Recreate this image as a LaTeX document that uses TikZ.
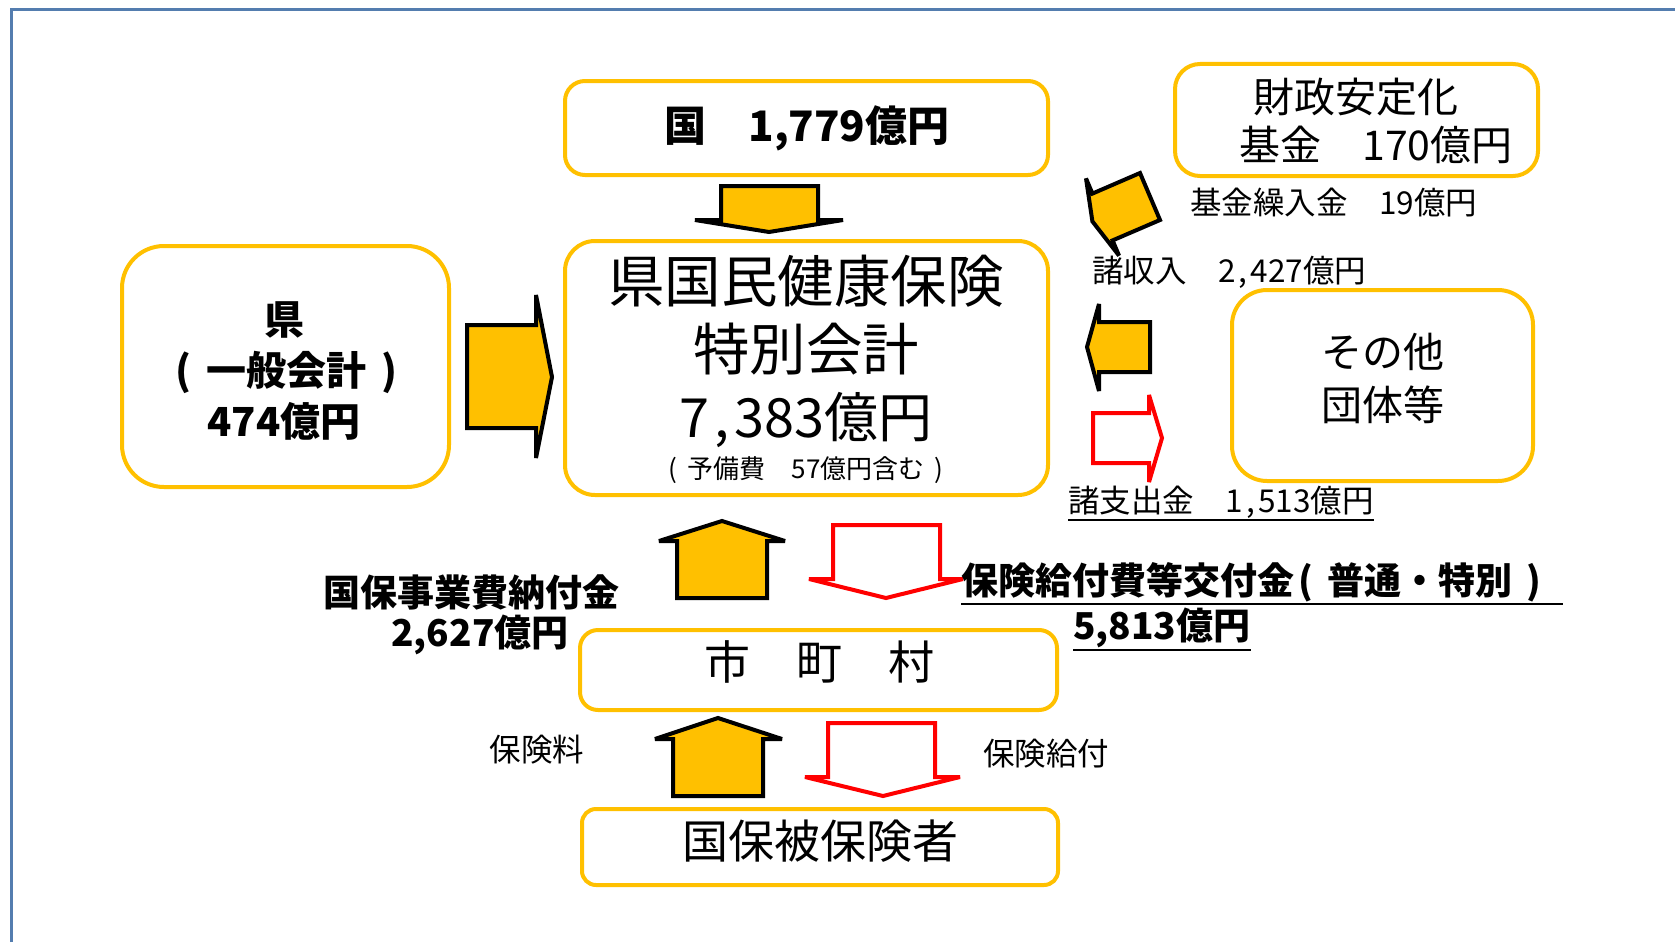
\documentclass[tikz,border=0pt]{standalone}
\usepackage{fontspec}
\setmainfont{Noto Sans CJK JP}
\definecolor{boxyellow}{HTML}{FFC000}
\definecolor{arrowfill}{HTML}{FFC000}
\definecolor{framecol}{RGB}{84,125,175}
\newcommand\myfs[2]{\fontsize{#1}{#2}\selectfont}
\newcommand\lpar{\hspace{.12em}(\hspace{.38em}}
\newcommand\rpar{\hspace{.38em})\hspace{.12em}}
\newcommand\cma{\kern.1em,\kern.1em}
\begin{document}
\begin{tikzpicture}[x=1pt,y=-1pt,
  ybox/.style={draw=boxyellow, line width=4pt, fill=white, inner sep=0pt},
  garrow/.style={draw=black, line width=4pt, fill=arrowfill, line join=miter, miter limit=4},
  rarrow/.style={draw=red, line width=4pt, fill=white, line join=miter, miter limit=4},
  txt/.style={inner sep=0pt, align=center, text=black},
  uline/.style={line width=2.5pt, black}]
\useasboundingbox (0,0) rectangle (1675,942);
% frame
\draw[framecol, line width=3pt] (11,942) -- (11,9.5) -- (1675,9.5);
% boxes
\node[ybox, rounded corners=20pt, minimum width=483pt, minimum height=94pt] (kuni) at (806.5,128) {};
\node[ybox, rounded corners=25pt, minimum width=363pt, minimum height=112pt] (zaisei) at (1356.5,120) {};
\node[ybox, rounded corners=42pt, minimum width=327pt, minimum height=241pt] (ken) at (285.5,366.5) {};
\node[ybox, rounded corners=30pt, minimum width=483pt, minimum height=254pt] (kokuho) at (806.5,368) {};
\node[ybox, rounded corners=35pt, minimum width=301pt, minimum height=191pt] (sonota) at (1382.5,385.5) {};
\node[ybox, rounded corners=18pt, minimum width=477pt, minimum height=80pt] (shichoson) at (818.5,670) {};
\node[ybox, rounded corners=14pt, minimum width=476pt, minimum height=76pt] (hihoken) at (820,847) {};
% block arrows
\draw[garrow] (721,186) -- (818,186) -- (818,220) -- (843,220) -- (769,232) -- (695,220) -- (721,220) -- cycle;
\draw[garrow] (467,325) -- (536,325) -- (536,295) -- (552,377) -- (536,458) -- (536,428) -- (467,428) -- cycle;
\draw[garrow] (1140,173) -- (1160,220) -- (1112.6,240.4) -- (1119,255.6) -- (1092.4,221.4) -- (1086,178.4) -- (1092.4,193.6) -- cycle;
\draw[garrow] (1150,322) -- (1150,372) -- (1099,372) -- (1099,391) -- (1087,347) -- (1099,304) -- (1099,322) -- cycle;
\draw[rarrow] (1093,413) -- (1149,413) -- (1149,395) -- (1162,438) -- (1149,482) -- (1149,463) -- (1093,463) -- cycle;
\draw[garrow] (677,598) -- (767,598) -- (767,541) -- (785,541) -- (722,521) -- (659,541) -- (677,541) -- cycle;
\draw[rarrow] (833,525) -- (940,525) -- (940,579) -- (963,579) -- (886,598) -- (809,579) -- (833,579) -- cycle;
\draw[garrow] (673,796) -- (763,796) -- (763,739) -- (782,739) -- (718,718) -- (655,739) -- (673,739) -- cycle;
\draw[rarrow] (828,723) -- (935,723) -- (935,777) -- (960,777) -- (883,796) -- (805,777) -- (828,777) -- cycle;
% texts
\node[txt, font=\bfseries\myfs{42}{50}] (kuniT) at (807,128) {国　1,779億円};
\node[txt, font=\myfs{41}{48}] (zaiT1) at (1356,97) {財政安定化};
\node[txt, font=\myfs{41}{48}] (zaiT2) at (1376,145) {基金　170億円};
\node[txt, font=\bfseries\myfs{40}{51}] (kenT) at (284,371) {県\\\lpar 一般会計\rpar\\474億円};
\node[txt, font=\myfs{56.5}{67.5}] (mainT) at (806,351.5) {県国民健康保険\\特別会計\\{\myfs{54}{67.5}7\cma 383億円}};
\node[txt, font=\myfs{26}{30}] (yobiT) at (806,470) {\lpar 予備費　57億円含む\rpar};
\node[txt, font=\myfs{41}{53}] (sonoT) at (1383,378.5) {その他\\団体等};
\node[txt, font=\myfs{31.5}{36}, anchor=west] (kikinT) at (1190,203) {基金繰入金　19億円};
\node[txt, font=\myfs{31.5}{36}, anchor=west] (shoshuT) at (1092,272) {諸収入　2\cma 427億円};
\node[txt, font=\myfs{31.5}{36}, anchor=west] (shoshiT) at (1068,502) {諸支出金　1\cma 513億円};
\draw[uline, line width=2pt] ([yshift=-2pt]shoshiT.south west) -- ([yshift=-2pt]shoshiT.south east);
\node[txt, font=\bfseries\myfs{37}{44}] (nofuT1) at (471,592) {国保事業費納付金};
\node[txt, font=\bfseries\myfs{37}{44}] (nofuT2) at (480,635) {2,627億円};
\node[txt, font=\myfs{31.5}{36}] (hokenryoT) at (537,750) {保険料};
\node[txt, font=\bfseries\myfs{37}{44}, anchor=west] (kofuT1) at (961,582) {保険給付費等交付金\lpar 普通・特別\rpar};
\coordinate (ulend) at (1563,0);
\draw[uline] ([yshift=-2pt]kofuT1.south west) -- ([yshift=-2pt]kofuT1.south west -| ulend);
\node[txt, font=\bfseries\myfs{37}{44}, anchor=west] (kofuT2) at (1073,628) {5,813億円};
\draw[uline] ([yshift=-2pt]kofuT2.south west) -- ([yshift=-2pt]kofuT2.south east);
\node[txt, font=\myfs{31.5}{36}] (kyufuT) at (1046,754) {保険給付};
\node[txt, font=\myfs{46}{50}] (shiT) at (819,662) {市　町　村};
\node[txt, font=\myfs{46}{50}] (hihoT) at (820,841) {国保被保険者};
\end{tikzpicture}
\end{document}
